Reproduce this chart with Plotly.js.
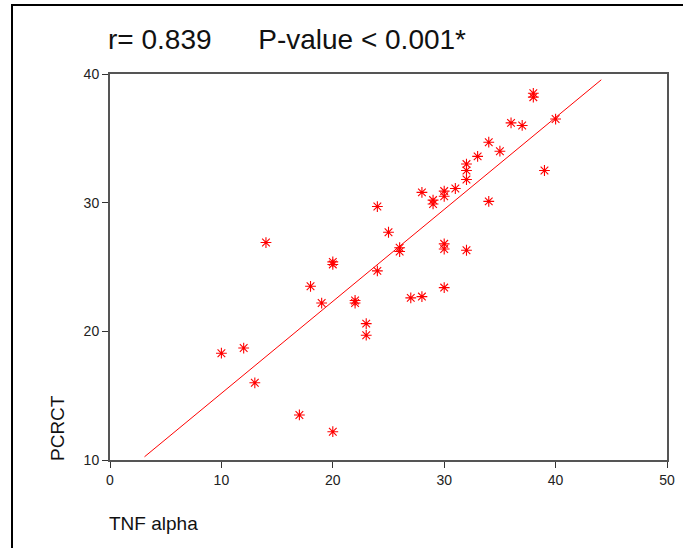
<!DOCTYPE html>
<html>
<head>
<meta charset="utf-8">
<script src="https://cdn.plot.ly/plotly-3.0.1.min.js"></script>
<style>html,body{margin:0;padding:0;background:#fff;}#chart{width:683px;height:548px;}</style>
</head>
<body>
<div id="chart"></div>
<script>
// TNF alpha (x) vs PCRCT (y)
const tnfAlpha = [10,12,13,14,17,18,19,20,20,20,22,22,23,23,24,24,25,26,26,27,28,28,29,29,30,30,30,30,30,31,32,32,32,32,33,34,34,35,36,37,38,38,39,40];
const pcrct    = [18.3,18.7,16.0,26.9,13.5,23.5,22.2,25.4,25.2,12.2,22.4,22.2,20.6,19.7,24.7,29.7,27.7,26.5,26.2,22.6,22.7,30.8,30.2,29.9,30.9,30.5,26.8,26.4,23.4,31.1,33.0,32.5,31.8,26.3,33.6,34.7,30.1,34.0,36.2,36.0,38.5,38.2,32.5,36.5];
// fitted regression line end points
const fitX = [3.1, 44.1];
const fitY = [10.25, 39.55];
const xTicks = [0,10,20,30,40,50];
const yTicks = [10,20,30,40];
const titleText = "r= 0.839\u00a0\u00a0\u00a0\u00a0\u00a0\u00a0P-value < 0.001*";

const W = 683, H = 548, L = 110, R = 16, T = 74, B = 88;
const pw = W - L - R, ph = H - T - B;
const px = v => (v - L) / pw;
const py = v => (H - B - v) / ph;

const traces = [
  {x: fitX, y: fitY, mode: 'lines', line: {color: 'red', width: 1}, hoverinfo: 'skip'},
  {x: tnfAlpha, y: pcrct, mode: 'markers',
   marker: {symbol: 'asterisk-open', size: 9, color: 'red', line: {color: 'red', width: 1.1}}}
];

const layout = {
  width: W, height: H,
  margin: {l: L, r: R, t: T, b: B},
  paper_bgcolor: '#fff', plot_bgcolor: '#fff',
  showlegend: false,
  font: {family: 'Liberation Sans, Arial, sans-serif', color: '#111'},
  xaxis: {range: [0, 50], tickvals: xTicks, ticks: 'outside', ticklen: 6, tickcolor: '#333',
          showgrid: false, zeroline: false, showline: true, linecolor: '#555', linewidth: 2, mirror: true,
          tickfont: {size: 14, color: '#222'}},
  yaxis: {range: [10, 40], tickvals: yTicks, ticks: 'outside', ticklen: 6, tickcolor: '#333',
          showgrid: false, zeroline: false, showline: true, linecolor: '#555', linewidth: 2, mirror: true,
          tickfont: {size: 14, color: '#222'}},
  annotations: [
    {text: titleText, xref: 'paper', yref: 'paper', x: px(106), y: py(40),
     showarrow: false, xanchor: 'left', yanchor: 'middle', font: {size: 28, color: '#111'}},
    {text: 'PCRCT', xref: 'paper', yref: 'paper', x: px(57), y: py(428), textangle: -90,
     showarrow: false, xanchor: 'center', yanchor: 'middle', font: {size: 19, color: '#111'}},
    {text: 'TNF alpha', xref: 'paper', yref: 'paper', x: px(107), y: py(523),
     showarrow: false, xanchor: 'left', yanchor: 'middle', font: {size: 19, color: '#111'}}
  ],
  shapes: [
    {type: 'line', xref: 'paper', yref: 'paper', x0: px(12), x1: px(12), y0: py(4), y1: py(548), line: {color: '#000', width: 2}},
    {type: 'line', xref: 'paper', yref: 'paper', x0: px(11), x1: px(683), y0: py(5), y1: py(5), line: {color: '#000', width: 2}}
  ]
};

Plotly.newPlot('chart', traces, layout, {displayModeBar: false, staticPlot: true});
</script>
</body>
</html>
